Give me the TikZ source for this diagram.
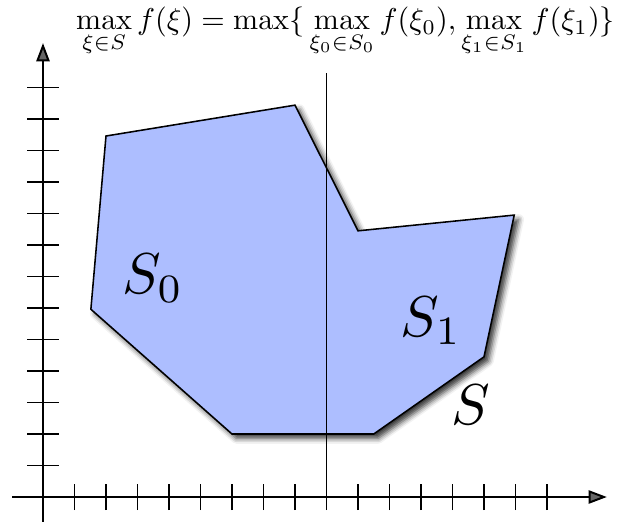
\documentclass[tikz,border=0pt]{standalone}
\usepackage{graphicx}
\usepackage{amsmath}
\usetikzlibrary{arrows.meta,shadows.blur}
\definecolor{regionblue}{RGB}{173,190,255}
\tikzset{
  axis/.style={line width=1.8pt,-{Triangle[length=0.58cm,width=0.42cm]}},
  tick/.style={line width=1.3pt},
  region/.style={fill=regionblue,draw=black,line width=1.4pt,line join=miter,
    blur shadow={shadow xshift=0.14cm,shadow yshift=-0.14cm,shadow blur radius=0.17cm,shadow opacity=80}},
  divider/.style={line width=1.5pt},
  biglabel/.style={inner sep=0pt},
  formula/.style={inner sep=0pt}
}
\begin{document}
\begin{tikzpicture}[x=1cm,y=1cm]
\useasboundingbox (-1.365,-0.921) rectangle (18.635,15.778);
% region
\path[region] (2,11.46) -- (8,12.44) -- (10,8.45) -- (14.96,8.95) -- (14,4.45) -- (10.5,2) -- (6,2) -- (1.52,5.96) -- cycle;
% axes
\coordinate (xs) at (-0.98,0);
\coordinate (xe) at (17.9,0);
\coordinate (ys) at (0,-0.79);
\coordinate (ye) at (0,14.41);
\draw[axis] (xs) -- (xe);
\draw[axis] (ys) -- (ye);
\foreach \k in {1,...,16} \draw[tick] (\k,-0.42) -- (\k,0.42);
\foreach \k in {1,...,13} \draw[tick] (-0.5,\k) -- (0.5,\k);
% divider
\coordinate (db) at (9,0);
\coordinate (dt) at (9,13.46);
\draw[divider] (db) -- (dt);
% labels
\node[biglabel] (s0) at (3.49,6.95) {\scalebox{5.2}{$S_0$}};
\node[biglabel] (s1) at (12.32,5.59) {\scalebox{5.2}{$S_1$}};
\node[biglabel] (s) at (13.59,2.92) {\scalebox{5.2}{$S$}};
\node[formula,anchor=north] (f) at (9.6,15.55) {\resizebox{17.1cm}{!}{$\displaystyle\max_{\xi\in S} f(\xi)=\max\{\,\max_{\xi_0\in S_0} f(\xi_0),\max_{\xi_1\in S_1} f(\xi_1)\}$}};
\end{tikzpicture}
\end{document}
